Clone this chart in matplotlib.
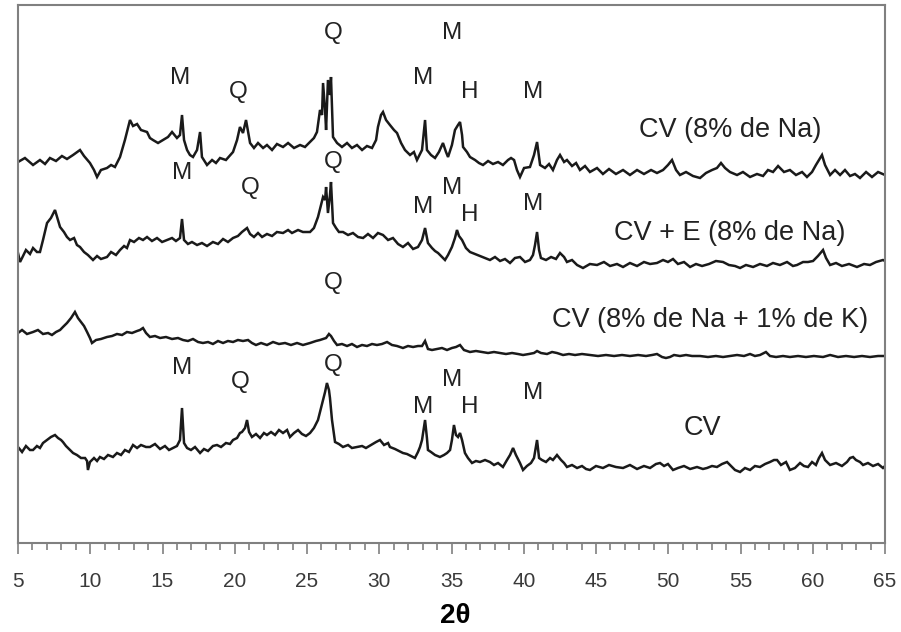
import matplotlib
matplotlib.use("Agg")
import matplotlib.pyplot as plt
from matplotlib.ticker import MultipleLocator

plt.rcParams['font.family'] = ['Liberation Sans', 'DejaVu Sans']

# ---- data (2theta in degrees, intensity in arbitrary stacked units) ----
tt_na = [5.00,5.48,6.04,6.52,6.87,7.21,7.63,8.04,8.39,8.81,9.29,9.57,9.98,10.26,10.47,10.74,11.16,11.44,11.71,12.06,12.40,12.61,12.75,12.96,13.24,13.51,13.93,14.13,14.34,14.69,15.03,15.38,15.66,16.00,16.21,16.35,16.49,16.70,16.90,17.11,17.39,17.60,17.73,18.08,18.43,18.70,18.98,19.39,19.88,20.16,20.36,20.57,20.78,21.06,21.33,21.61,21.96,22.23,22.58,22.92,23.34,23.69,24.10,24.52,24.86,25.21,25.48,25.69,25.90,26.04,26.11,26.25,26.32,26.45,26.59,26.66,26.80,27.08,27.42,27.77,28.11,28.46,28.81,29.15,29.50,29.78,29.91,30.12,30.26,30.47,30.74,31.02,31.23,31.51,31.78,32.13,32.40,32.61,32.96,33.17,33.30,33.58,33.86,34.13,34.41,34.62,34.76,35.03,35.24,35.45,35.59,35.73,35.80,36.07,36.28,36.63,36.90,37.18,37.53,37.87,38.22,38.56,38.91,39.12,39.33,39.53,39.74,40.02,40.43,40.71,40.92,41.13,41.47,41.75,42.02,42.30,42.51,42.79,42.99,43.34,43.62,43.89,44.24,44.58,45.07,45.48,45.90,46.38,46.87,47.35,47.84,48.32,48.81,49.22,49.64,49.98,50.26,50.54,50.81,51.23,51.71,52.20,52.61,53.03,53.37,53.65,53.93,54.27,54.76,55.17,55.66,56.14,56.56,56.90,57.25,57.60,58.01,58.42,58.84,59.26,59.60,59.95,60.22,60.43,60.64,60.85,61.20,61.54,61.89,62.23,62.58,62.92,63.27,63.69,64.10,64.52,65.00]
int_na = [381,385,378,383,379,385,382,387,384,388,393,387,380,373,366,373,375,378,376,386,403,415,423,417,419,413,411,405,403,400,403,406,411,405,408,428,403,393,388,386,393,411,386,378,383,380,385,383,391,403,416,410,423,400,395,400,395,398,393,399,396,400,395,398,396,401,405,411,433,428,460,433,413,463,448,466,406,400,396,400,395,398,393,397,395,403,416,428,431,423,418,413,410,400,393,388,391,383,393,423,393,388,385,391,400,391,386,398,413,418,421,408,396,391,386,383,380,378,382,379,381,378,383,385,383,373,366,375,376,388,401,378,375,379,373,383,388,381,383,377,380,373,377,371,375,369,374,369,373,368,373,369,373,370,373,378,383,373,368,371,367,365,370,373,375,380,375,371,368,371,366,369,367,373,371,377,371,373,368,371,366,371,378,383,388,378,368,373,368,373,367,369,365,371,366,371,368]

tt_e = [5.00,5.14,5.28,5.55,5.83,6.04,6.31,6.52,6.73,7.01,7.28,7.56,7.77,7.91,8.18,8.39,8.60,8.88,9.08,9.29,9.57,9.84,10.19,10.47,10.74,11.16,11.44,11.78,12.06,12.34,12.54,12.75,13.03,13.37,13.65,13.93,14.27,14.62,14.97,15.31,15.66,15.93,16.21,16.35,16.49,16.76,17.04,17.39,17.73,18.08,18.49,18.84,19.19,19.53,19.88,20.22,20.50,20.85,21.06,21.33,21.61,21.89,22.23,22.58,22.92,23.34,23.69,23.96,24.38,24.72,25.21,25.48,25.76,25.97,26.11,26.25,26.32,26.45,26.59,26.66,26.80,27.01,27.21,27.49,27.84,28.18,28.53,28.88,29.22,29.57,29.91,30.26,30.61,30.95,31.30,31.64,31.99,32.34,32.68,32.96,33.17,33.37,33.65,33.86,34.07,34.34,34.55,34.76,35.03,35.24,35.38,35.52,35.73,36.00,36.28,36.63,36.97,37.32,37.66,38.01,38.36,38.70,39.05,39.39,39.74,40.09,40.43,40.64,40.78,40.92,41.06,41.19,41.54,41.89,42.23,42.51,42.79,42.99,43.34,43.69,44.10,44.58,45.07,45.55,45.97,46.45,46.87,47.35,47.84,48.32,48.74,49.22,49.64,49.98,50.33,50.67,51.09,51.51,51.92,52.34,52.82,53.30,53.79,54.20,54.62,54.97,55.38,55.87,56.35,56.83,57.25,57.73,58.22,58.63,58.91,59.33,59.67,60.02,60.36,60.71,60.92,61.20,61.61,62.02,62.51,63.06,63.55,63.96,64.38,64.86,65.00]
int_e = [290,281,285,293,289,295,291,291,303,320,325,333,323,316,311,306,303,305,298,296,291,288,283,287,284,286,291,288,293,297,295,303,301,305,303,306,302,305,301,303,305,302,305,324,303,299,301,298,300,297,301,299,304,301,305,307,311,315,309,306,310,306,309,307,311,310,313,310,313,311,311,315,326,338,346,343,356,330,348,361,320,315,311,311,308,310,306,305,309,305,310,308,303,305,299,296,300,294,296,303,315,300,295,292,290,286,283,288,296,305,313,307,303,295,291,289,287,285,283,286,282,284,280,285,286,281,283,288,298,311,293,285,283,286,284,290,286,281,283,278,275,279,278,281,277,279,276,280,277,281,279,280,283,281,284,279,281,276,279,277,279,282,281,278,277,275,278,276,279,277,280,278,281,277,278,281,281,282,287,293,285,278,280,277,279,276,279,278,281,283,282]

tt_nak = [5.00,5.28,5.62,6.04,6.38,6.73,7.08,7.35,7.63,7.91,8.11,8.39,8.67,8.94,9.15,9.36,9.57,9.78,9.98,10.12,10.40,10.74,11.16,11.51,11.85,12.20,12.54,12.89,13.24,13.44,13.65,13.86,14.13,14.48,14.83,15.24,15.66,16.07,16.42,16.76,17.11,17.46,17.80,18.15,18.49,18.84,19.19,19.53,19.88,20.22,20.57,20.92,21.19,21.47,21.82,22.23,22.65,23.06,23.48,23.89,24.31,24.72,25.21,25.62,25.90,26.11,26.32,26.52,26.66,26.87,27.08,27.42,27.77,28.11,28.46,28.81,29.15,29.50,29.84,30.19,30.54,30.88,31.23,31.64,31.99,32.34,32.68,32.96,33.17,33.37,33.65,34.00,34.34,34.69,35.03,35.31,35.59,35.86,36.28,36.69,37.11,37.53,37.94,38.36,38.77,39.19,39.60,39.95,40.36,40.71,40.92,41.19,41.61,41.96,42.30,42.72,43.13,43.55,44.03,44.58,45.14,45.69,46.25,46.80,47.35,47.91,48.46,48.88,49.22,49.57,49.84,50.12,50.40,50.81,51.23,51.65,52.20,52.75,53.30,53.79,54.27,54.76,55.24,55.66,56.00,56.35,56.76,57.04,57.46,57.94,58.42,58.98,59.53,60.08,60.71,61.20,61.75,62.30,62.86,63.41,63.96,64.52,65.00]
int_nak = [210,213,209,211,213,209,210,208,211,213,216,220,225,231,225,221,217,211,205,200,203,204,206,207,209,208,211,210,212,213,215,210,206,207,205,206,204,205,203,202,204,201,200,201,199,202,200,202,201,203,202,203,200,198,200,198,201,199,200,198,200,198,200,202,203,204,205,209,207,202,198,199,197,199,196,198,197,199,198,199,201,198,197,195,197,196,197,197,202,194,193,194,195,193,195,196,198,193,191,192,191,190,191,190,189,190,189,188,189,190,192,190,189,191,190,188,189,188,189,188,187,188,187,188,187,188,187,188,189,186,185,186,188,187,188,187,187,186,187,186,187,188,187,189,187,188,191,187,186,187,186,187,186,187,186,188,186,187,186,187,186,187,187]

tt_cv = [5.00,5.28,5.55,5.83,6.04,6.31,6.52,6.73,7.01,7.28,7.56,7.77,7.98,8.11,8.32,8.60,8.81,9.08,9.36,9.64,9.78,9.84,9.98,10.26,10.47,10.67,10.95,11.23,11.57,11.85,12.13,12.40,12.68,12.96,13.24,13.51,13.86,14.13,14.48,14.83,15.17,15.45,15.73,16.00,16.21,16.35,16.49,16.70,16.97,17.25,17.60,17.87,18.15,18.49,18.77,19.05,19.39,19.67,19.88,20.16,20.36,20.50,20.71,20.85,20.99,21.19,21.47,21.75,22.02,22.23,22.51,22.79,23.06,23.34,23.62,23.82,24.10,24.38,24.65,24.93,25.21,25.48,25.76,25.97,26.11,26.25,26.38,26.52,26.59,26.73,26.94,27.21,27.49,27.84,28.11,28.46,28.81,29.08,29.43,29.78,30.05,30.33,30.61,30.74,31.09,31.37,31.64,31.92,32.20,32.47,32.68,32.82,32.96,33.17,33.30,33.37,33.58,33.86,34.20,34.48,34.69,34.90,35.03,35.17,35.31,35.45,35.59,35.73,35.93,36.14,36.42,36.69,36.97,37.32,37.66,37.94,38.22,38.56,38.84,39.05,39.26,39.46,39.74,39.95,40.22,40.50,40.71,40.92,41.06,41.26,41.54,41.82,42.02,42.30,42.58,42.79,42.99,43.34,43.69,44.03,44.31,44.58,45.00,45.48,45.90,46.38,46.87,47.35,47.84,48.32,48.74,49.15,49.43,49.71,49.98,50.33,50.67,51.09,51.51,51.99,52.40,52.68,53.03,53.37,53.72,54.07,54.34,54.62,54.97,55.31,55.66,56.00,56.35,56.70,57.04,57.32,57.53,57.80,58.15,58.42,58.77,59.12,59.39,59.67,59.95,60.22,60.43,60.64,60.85,61.20,61.61,62.02,62.37,62.58,62.79,62.99,63.27,63.48,63.82,64.17,64.52,64.86,65.00]
int_cv = [96,91,97,93,93,97,95,100,103,106,108,105,103,101,97,93,90,88,85,85,82,73,81,85,82,86,84,88,86,90,88,93,91,98,95,98,96,96,99,94,97,93,95,97,103,135,100,95,93,96,90,94,92,97,98,96,100,99,103,105,110,111,115,123,111,106,109,105,110,108,111,108,113,110,113,106,110,113,109,107,110,115,123,135,143,151,160,153,145,123,101,99,96,98,95,96,97,95,98,101,103,98,100,96,94,92,90,89,87,85,91,96,103,123,105,93,91,88,86,88,90,93,103,118,108,106,110,103,90,85,80,82,81,83,81,78,80,76,83,88,95,88,80,73,77,80,85,103,85,83,81,85,83,88,83,80,76,78,75,77,74,73,77,75,78,76,75,78,74,77,75,79,80,77,79,73,75,77,74,76,74,75,77,76,79,81,77,73,71,75,73,77,76,79,81,83,83,78,81,73,75,80,77,76,81,78,85,90,83,78,80,77,81,85,86,83,81,78,80,77,79,75,77]

series_labels = ['CV (8% de Na)', 'CV + E (8% de Na)', 'CV (8% de Na + 1% de K)', 'CV']
label_x = [54.27, 54.27, 52.89, 52.34]
label_y = [413, 310, 223, 115]

peak_letters = ['Q', 'M', 'M', 'Q', 'M', 'H', 'M',
                'M', 'Q', 'Q', 'M', 'M', 'H', 'M',
                'Q',
                'M', 'Q', 'Q', 'M', 'M', 'H', 'M']
peak_x = [26.80, 35.03, 16.21, 20.22, 33.03, 36.28, 40.64,
          16.35, 21.06, 26.80, 33.03, 35.03, 36.28, 40.64,
          26.80,
          16.35, 20.36, 26.80, 33.03, 35.03, 36.28, 40.64]
peak_y = [510, 510, 465, 451, 465, 451, 451,
          370, 355, 381, 336, 355, 328, 339,
          260,
          175, 161, 178, 136, 163, 136, 150]

# ---- figure ----
fig = plt.figure(figsize=(9.01, 6.32), dpi=100)
ax = fig.add_axes([18/901, 1 - 543/632, (885-18)/901, (543-5)/632])

line_kw = dict(color='#1a1a1a', lw=1.8, solid_joinstyle='miter')
for tt, it in [(tt_na, int_na), (tt_e, int_e), (tt_nak, int_nak), (tt_cv, int_cv)]:
    ax.plot(tt, it, **line_kw)

txt_color = '#222222'
for s, x, y in zip(series_labels, label_x, label_y):
    ax.text(x, y, s, ha='center', va='center', fontsize=19.5, color=txt_color)
for s, x, y in zip(peak_letters, peak_x, peak_y):
    ax.text(x, y, s, ha='center', va='center', fontsize=17.5, color=txt_color)

ax.set_xlim(5, 65)
ax.set_ylim(0, 538)
ax.set_yticks([])
ax.xaxis.set_major_locator(MultipleLocator(5))
ax.xaxis.set_minor_locator(MultipleLocator(1))
ax.tick_params(axis='x', which='major', direction='out', length=8, width=1.2,
               color='#808080', labelsize=15, labelcolor='#3a3a3a', pad=13)
ax.tick_params(axis='x', which='minor', direction='out', length=5, width=1.2,
               color='#808080')
for sp in ax.spines.values():
    sp.set_color('#808080')
    sp.set_linewidth(1.5)

ax.set_xlabel('2θ', fontsize=20, fontweight='bold', color='black')
ax.xaxis.set_label_coords((455 - 18) / 867, (543 - 616) / 538)
ax.xaxis.label.set_va('center')

fig.savefig('out.png', dpi=100)
